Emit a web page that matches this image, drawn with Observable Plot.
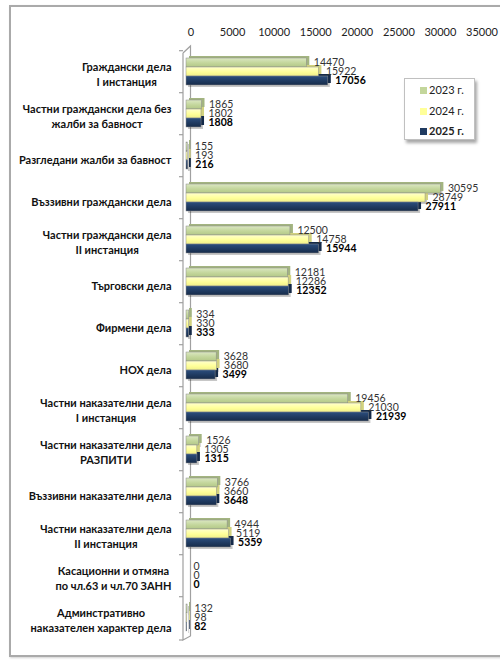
<!DOCTYPE html>
<html><head><meta charset="utf-8">
<script src="https://cdn.jsdelivr.net/npm/d3@7"></script>
<script src="https://cdn.jsdelivr.net/npm/@observablehq/plot@0.6"></script>
<style>
body{margin:0;background:#fff;}
#wrap{position:relative;width:500px;height:663px;overflow:hidden;font-family:Lato,sans-serif;}
#frame{position:absolute;left:9px;top:5px;width:520px;height:652px;border:2px solid #aaaaaa;box-shadow:1px 1px 2px #d0d0d0;box-sizing:border-box;}
#chart{position:absolute;left:0;top:0;}
#legend{position:absolute;left:404px;top:78px;width:71px;height:62px;background:#fff;border:1px solid #c0c0c0;box-shadow:2px 3px 3px rgba(0,0,0,0.35);box-sizing:border-box;font-size:11px;color:#222;}
#legend .it{position:absolute;left:15px;height:12px;line-height:12px;white-space:nowrap;}
#legend .sw{display:inline-block;width:7px;height:7px;margin-right:2px;vertical-align:0px;}
</style></head>
<body><div id="wrap"><div id="frame"></div><div id="chart"></div><div id="legend"></div></div>
<script>
const cats = [
"Граждански дела\nI инстанция",
"Частни граждански дела без\nжалби за бавност",
"Разгледани жалби за бавност",
"Въззивни граждански дела",
"Частни граждански дела\nII инстанция",
"Търговски дела",
"Фирмени дела",
"НОХ дела",
"Частни наказателни дела\nI инстанция",
"Частни наказателни дела\nРАЗПИТИ",
"Въззивни наказателни дела",
"Частни наказателни дела\nII инстанция",
"Касационни и отмяна\nпо чл.63 и чл.70 ЗАНН",
"Админстративно\nнаказателен характер дела"
];
const years = ["2023 г.", "2024 г.", "2025 г."];
const v2023 = [14470,1865,155,30595,12500,12181,334,3628,19456,1526,3766,4944,0,132];
const v2024 = [15922,1802,193,28749,14758,12286,330,3680,21030,1305,3660,5119,0,98];
const v2025 = [17056,1808,216,27911,15944,12352,333,3499,21939,1315,3648,5359,0,82];
const xTicks = [0,5000,10000,15000,20000,25000,30000,35000];
const colors = ["#c3d69b","#ffff99","#1f3a60"];
const depthColors = ["#a3b480","#d2d27e","#152a48"];

const series = [v2023, v2024, v2025];
const rows = [];
cats.forEach((c,i)=>years.forEach((y,j)=>rows.push({cat:c, year:y, value:series[j][i]})));

const defs = () => {
  const d = d3.create("svg:defs");
  const grads = [["g0","#dbe7c2","#c3d69b","#b3c788"],["g1","#ffffcc","#ffff99","#f0f08a"],["g2","#2c4e7e","#1f3a60","#172c4a"]];
  grads.forEach(([id,a,b,c])=>{
    const g = d.append("linearGradient").attr("id",id).attr("x1",0).attr("y1",0).attr("x2",0).attr("y2",1);
    g.append("stop").attr("offset","0%").attr("stop-color",a);
    g.append("stop").attr("offset","55%").attr("stop-color",b);
    g.append("stop").attr("offset","100%").attr("stop-color",c);
  });
  return d.node();
};

const depthMarks = years.map((y,j)=>Plot.barX(rows.filter(d=>d.year===y), {fy:"cat", y:"year", x:"value", fill:depthColors[j], dx:3, dy:-2}));

const plot = Plot.plot({
  width:500, height:663,
  marginTop:50, marginBottom:23, marginLeft:186, marginRight:23,
  style:{fontFamily:"Lato, sans-serif", background:"transparent", overflow:"visible"},
  x:{domain:[0,35000], axis:null},
  fy:{domain:cats, paddingInner:0.3, paddingOuter:0.15, axis:null},
  y:{domain:years, padding:0.02, axis:null},
  color:{domain:years, range:["url(#g0)","url(#g1)","url(#g2)"]},
  marks:[
    defs,
    Plot.axisX({anchor:"top", ticks:xTicks, tickSize:0, tickPadding:22, tickFormat:d=>String(d), fontSize:11, dx:4.5, fill:"#222", label:null}),
    Plot.axisFy({anchor:"left", tickSize:0, tickPadding:15, fontSize:11, fontWeight:"bold", dy:4, fill:"#111", label:null}),
    Plot.barX(rows, {fy:"cat", y:"year", x:"value", fill:"#000", fillOpacity:0.22, dx:2, dy:2}),
    ...depthMarks,
    Plot.barX(rows, {fy:"cat", y:"year", x:"value", fill:"year", stroke:"#8c8c8c", strokeWidth:0.5}),
    Plot.text(rows.filter(d=>d.year!==years[2]), {fy:"cat", y:"year", x:"value", text:d=>String(d.value), dx:7, textAnchor:"start", fontSize:10.5, fill:"#333"}),
    Plot.text(rows.filter(d=>d.year===years[2]), {fy:"cat", y:"year", x:"value", text:d=>String(d.value), dx:7, textAnchor:"start", fontSize:10.5, fontWeight:"bold", fill:"#000"})
  ]
});
document.getElementById("chart").appendChild(plot);

// 3D wall drawn from scales
const svg = d3.select(plot);
const xs = plot.scale("x"), fys = plot.scale("fy");
const x0 = xs.apply(0);
const wTop = 50, wBot = 640;
const wall = svg.insert("g", ":first-child").attr("stroke","#a0a0a0").attr("fill","none").attr("stroke-width",1.2);
wall.append("path").attr("d",`M${x0-3},${wTop+3}L${x0-3},${wBot}L${x0+4.5},${wBot-4}L${x0+4.5},${wTop-4}L${x0-3},${wTop+3}`);
const step = fys.step ?? (fys.bandwidth/(1-0.3));
cats.forEach((c)=>{
  const yb = fys.apply(c) - step*0.15;
  wall.append("line").attr("x1",x0-7).attr("x2",x0-3).attr("y1",yb).attr("y2",yb);
});
wall.append("line").attr("x1",x0-7).attr("x2",x0-3).attr("y1",wBot).attr("y2",wBot);

// center multi-line labels inside their right-aligned block, 15px line spacing
svg.selectAll("text").each(function(){
  const ts = this.querySelectorAll("tspan");
  const n = ts.length;
  if (n > 1) {
    let w = 0; ts.forEach(t=>{w=Math.max(w,t.getComputedTextLength());});
    this.setAttribute("text-anchor","middle");
    this.removeAttribute("dy");
    ts.forEach((t,i)=>{
      t.setAttribute("x", -w/2);
      t.removeAttribute("dy");
      t.setAttribute("y", (i-(n-1)/2)*15 + 2.2);
    });
  }
});

// legend
const lg = d3.select("#legend");
years.forEach((y,j)=>{
  const it = lg.append("div").attr("class","it").style("top",(5+j*20.5)+"px").style("font-weight", j===2?"bold":"normal");
  it.append("span").attr("class","sw").style("background",colors[j]);
  it.append("span").text(y);
});
</script></body></html>
